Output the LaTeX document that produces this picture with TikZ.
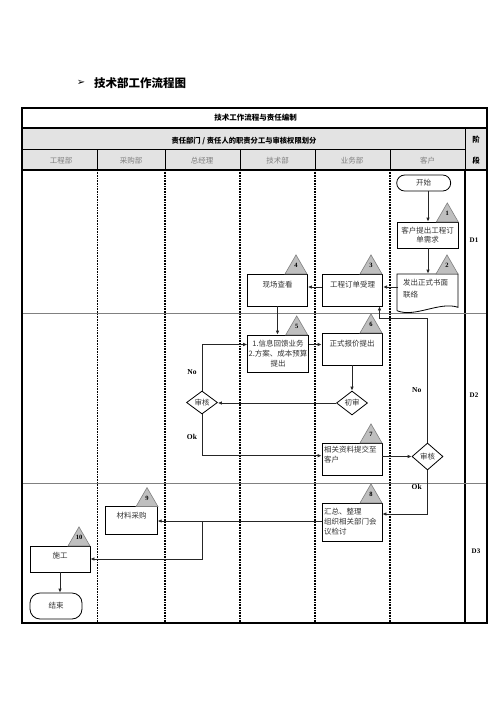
\documentclass[tikz,border=0pt]{standalone}
\usepackage{fontspec}
\setmainfont{Liberation Serif}
\newfontfamily\cjk{Noto Sans CJK SC}
\newfontfamily\dejavu{DejaVu Sans}
\usetikzlibrary{arrows.meta,shapes.geometric,calc}
\begin{document}
\begin{tikzpicture}[x=1pt,y=-1pt,
  box/.style={draw=black, line width=0.8pt, fill=white, minimum width=60pt, minimum height=32pt,
    inner sep=1pt, font=\cjk\fontsize{7.5}{10}\selectfont, text=black!80, align=center},
  lbox/.style={box, align=left, text width=56pt},
  term/.style={box, rounded corners=8pt},
  dia/.style={diamond, draw=black, line width=0.8pt, fill=white, aspect=1.3, inner sep=0pt,
    font=\cjk\fontsize{7.5}{9}\selectfont, text=black!80, minimum width=31pt, minimum height=24pt},
  tri/.style={regular polygon, regular polygon sides=3, draw=black!50, fill=black!25, line width=0.6pt,
    minimum size=25.4pt, inner sep=0pt, text height=4.5pt, text depth=4pt,
    font=\bfseries\fontsize{6.5}{7}\selectfont},
  arr/.style={draw=black!85, line width=0.8pt, -{Latex[length=4pt,width=3.6pt]}},
  lbl/.style={font=\bfseries\fontsize{7.5}{8}\selectfont},
  lane/.style={line width=1.4pt, dash pattern=on 0.8pt off 0.8pt},
  hdr/.style={font=\cjk\bfseries\fontsize{7.5}{9}\selectfont},
  lanename/.style={font=\cjk\fontsize{7.5}{9}\selectfont, text=black!50},
]
\useasboundingbox (0,0) rectangle (496,702);
\fill[white] (0,0) rectangle (496,702);

% title
\node (bul) at (81,83) {\dejavu\fontsize{10}{11}\selectfont ➢};
\node (ttl) at (140,83) {\cjk\bfseries\fontsize{11.5}{13}\selectfont 技术部工作流程图};

% table
\fill[black!11] (22,128) rectangle (487,170);
\draw[line width=1.2pt] (22,128) -- (487,128);
\draw[line width=0.8pt] (22,149.5) -- (465,149.5);
\draw[line width=1.2pt] (22,170) -- (487,170);
\foreach \x in {97.5,165,240,315,390} {
  \draw[line width=0.8pt] (\x,149.5) -- (\x,170);
  \draw[lane] (\x,170) -- (\x,623);
}
\draw[line width=0.8pt] (465,128) -- (465,170);
\draw[line width=1.8pt] (465,170) -- (465,623);
\draw[black!50, line width=0.8pt] (22,313) -- (487,313);
\draw[black!50, line width=0.8pt] (22,483) -- (487,483);
\draw[line width=1.6pt] (22,108) rectangle (487,623);

\node[hdr] (h1) at (255.5,118) {技术工作流程与责任编制};
\node[hdr, font=\cjk\bfseries\fontsize{7.3}{9}\selectfont] (h2) at (244,140.5) {责任部门 / 责任人的职责分工与审核权限划分};
\node[hdr] (s1) at (476,140) {阶};
\node[hdr] (s2) at (476,161) {段};
\node[lanename] (l1) at (61,160.5) {工程部};
\node[lanename] (l2) at (131,160.5) {采购部};
\node[lanename] (l3) at (202,160.5) {总经理};
\node[lanename] (l4) at (277.5,160.5) {技术部};
\node[lanename] (l5) at (352,160.5) {业务部};
\node[lanename] (l6) at (427.5,160.5) {客户};

\node[lbl, font=\bfseries\fontsize{7}{8}\selectfont] (D1) at (474,240) {D1};
\node[lbl, font=\bfseries\fontsize{7}{8}\selectfont] (D2) at (474,395) {D2};
\node[lbl, font=\bfseries\fontsize{7}{8}\selectfont] (D3) at (476,551) {D3};

% document shape outline
\draw[line width=0.8pt, fill=white] (397,310.7) -- (397,274) -- (458,274) -- (458,307.3)
  .. controls (440,301) and (415,318) .. (397,310.7);

% nodes
\node[term, minimum width=54pt, minimum height=16pt] (start) at (423.7,183) {开始};
\node[box, minimum width=61pt, minimum height=26pt, font=\cjk\fontsize{7.5}{9.5}\selectfont] (b1) at (427.5,235) {客户提出工程订\\单需求};
\node[box, draw=none, fill=none, minimum width=61pt, minimum height=30pt, align=left, text width=52pt,
  font=\cjk\fontsize{7.5}{12}\selectfont] (doc) at (429,289) {发出正式书面\\联络};
\node[box] (b3) at (352.7,290) {工程订单受理\\[2pt]\mbox{}};
\node[box] (b4) at (277.5,290) {现场查看\\[2pt]\mbox{}};
\node[box, minimum height=37pt] (b5) at (278,353.5) {1.信息回馈业务\\2.方案、成本预算\\提出};
\node[box] (b6) at (352,349) {正式报价提出\\[2pt]\mbox{}};
\node[dia] (d1) at (352,403) {初审};
\node[dia, minimum height=23pt] (d2) at (202,402.5) {审核};
\node[lbox, minimum height=32pt] (b7) at (352,459) {相关资料提交至\\客户\\\mbox{}};
\node[dia, minimum height=27pt] (d3) at (427.5,456.5) {审核};
\node[lbox, minimum height=38pt] (b8) at (352,522) {汇总、整理\\组织相关部门会\\议检讨};
\node[box, minimum width=51.6pt, minimum height=27.6pt] (b9) at (131.5,520.5) {材料采购\\[0pt]\mbox{}};
\node[box, minimum height=26pt] (b10) at (60,559) {施工\\[-2pt]\mbox{}};
\node[term, rounded corners=10pt, minimum width=52pt, minimum height=26pt] (stop) at (56,606) {结束};

% step triangles
\node[tri] (t1) at (447.3,215.6) {1};
\node[tri] (t2) at (447,267.6) {2};
\node[tri] (t3) at (371,267.6) {3};
\node[tri] (t4) at (296,267.6) {4};
\node[tri] (t5) at (296.7,328.6) {5};
\node[tri] (t6) at (371,326.6) {6};
\node[tri] (t7) at (371,436.6) {7};
\node[tri] (t8) at (371,496.6) {8};
\node[tri] (t9) at (147,500.3) {9};
\node[tri] (t10) at (79,539.6) {10};

% connectors
\draw[arr] (start.south -| 428,0) -- (b1.north -| 428,0);
\draw[arr] (b1.south -| 428,0) -- (doc.north -| 428,0);
\draw[arr] ([yshift=2pt]doc.west) -- ([yshift=2pt]doc.west -| b3.east);
\draw[arr] ([yshift=3pt]b3.west) -- ([yshift=3pt]b3.west -| b4.east);
\draw[arr] (b4.south) -- (b4.south |- b5.north);
\draw[arr] ([yshift=9pt]b5.east) -- ([yshift=9pt]b5.east -| b6.west);
\draw[arr] (b6.south) -- (d1.north);
\draw[arr] (d1.west) -- (d1.west -| d2.east);
\draw[arr] (d2.north) |- ([yshift=9pt]b5.west);
\draw[arr] (d2.south) |- ([yshift=3.3pt]b7.west);
\draw[arr] (b7.east |- d3.west) -- (d3.west);
\coordinate (nt) at (379.5,318);
\draw[arr] (d3.north) |- (nt) -- (nt |- b3.south);
\draw[arr] (d3.south) |- ([yshift=8pt]b8.east);
\draw[arr] ([yshift=1pt]b8.west) -- ([yshift=1pt]b8.west -| b9.east);
\coordinate (br) at (202.7,521);
\draw[arr] (br) |- (b10.east);
\draw[arr] (b10.south) -- (b10.south |- stop.north);

\node[lbl] (no1) at (192,372) {No};
\node[lbl] (ok1) at (192,437) {Ok};
\node[lbl] (no2) at (416.7,390) {No};
\node[lbl] (ok2) at (416.7,487) {Ok};
\end{tikzpicture}
\end{document}
